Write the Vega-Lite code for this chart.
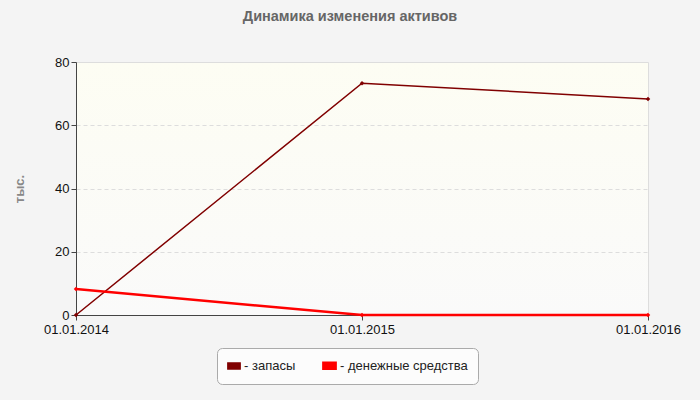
{
  "$schema": "https://vega.github.io/schema/vega-lite/v6.json",
  "autosize": {"type": "none"},
  "padding": {"left": 76, "top": 62, "right": 52, "bottom": 85},
  "width": 572,
  "height": 253,
  "background": "#f4f4f4",
  "title": {
    "text": "Динамика изменения активов",
    "font": "Liberation Sans",
    "fontSize": 14.5,
    "fontWeight": "bold",
    "color": "#666666",
    "anchor": "middle",
    "dx": -12,
    "offset": 32
  },
  "data": {
    "values": [
      {"date": "01.01.2014", "series": "запасы", "value": 0},
      {"date": "01.01.2015", "series": "запасы", "value": 73.3},
      {"date": "01.01.2016", "series": "запасы", "value": 68.3},
      {"date": "01.01.2014", "series": "денежные средства", "value": 8.2},
      {"date": "01.01.2015", "series": "денежные средства", "value": 0},
      {"date": "01.01.2016", "series": "денежные средства", "value": 0}
    ]
  },
  "mark": {
    "type": "line",
    "point": {"shape": "diamond", "size": 20, "filled": true}
  },
  "encoding": {
    "x": {
      "field": "date",
      "type": "ordinal",
      "scale": {"type": "point", "padding": 0},
      "axis": {
        "title": null,
        "labelAngle": 0,
        "labelFontSize": 13,
        "labelColor": "#111111",
        "labelPadding": 3,
        "tickSize": 5,
        "tickColor": "#444444",
        "domainColor": "#444444",
        "gridDash": [4, 3],
        "gridColor": "#dddddd"
      }
    },
    "y": {
      "field": "value",
      "type": "quantitative",
      "scale": {"domain": [0, 80]},
      "axis": {
        "values": [0, 20, 40, 60, 80],
        "title": "тыс.",
        "titleColor": "#888888",
        "titleFontSize": 13,
        "titleFontWeight": "bold",
        "titlePadding": 28,
        "labelFontSize": 13,
        "labelColor": "#111111",
        "tickSize": 5,
        "tickColor": "#444444",
        "domainColor": "#444444",
        "gridDash": [4, 3],
        "gridColor": "#dddddd"
      }
    },
    "color": {
      "field": "series",
      "type": "nominal",
      "sort": ["запасы", "денежные средства"],
      "scale": {"domain": ["запасы", "денежные средства"], "range": ["#800000", "#ff0000"]},
      "legend": {
        "title": null,
        "orient": "none",
        "legendX": 141,
        "legendY": 286,
        "direction": "horizontal",
        "fillColor": "#fcfcfc",
        "strokeColor": "#aaaaaa",
        "cornerRadius": 5,
        "padding": 10,
        "labelExpr": "'- ' + datum.label",
        "labelFontSize": 13,
        "labelColor": "#222222",
        "symbolType": "M-1,-0.5 L1,-0.5 L1,0.5 L-1,0.5 Z",
        "symbolSize": 150,
        "symbolStrokeColor": "#888888",
        "symbolStrokeWidth": 1,
        "symbolOpacity": 1,
        "columnPadding": 22,
        "labelOffset": 3
      }
    },
    "strokeWidth": {
      "field": "series",
      "type": "nominal",
      "scale": {"domain": ["запасы", "денежные средства"], "range": [1.5, 2.5]},
      "legend": null
    }
  },
  "config": {
    "font": "Liberation Sans",
    "view": {
      "stroke": "#dddddd",
      "fill": {
        "gradient": "linear",
        "x1": 0, "y1": 0, "x2": 0, "y2": 1,
        "stops": [
          {"offset": 0, "color": "#fdfdf3"},
          {"offset": 1, "color": "#fafafa"}
        ]
      }
    }
  }
}
